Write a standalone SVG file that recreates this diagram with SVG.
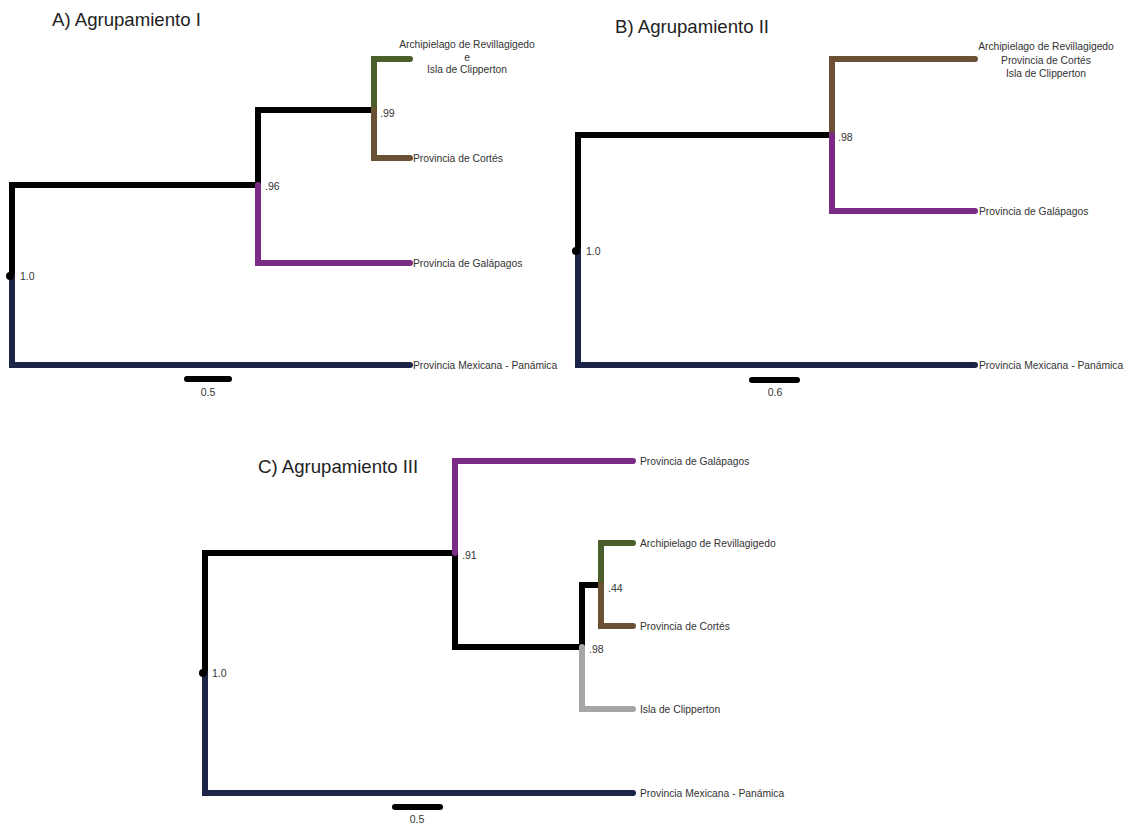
<svg xmlns="http://www.w3.org/2000/svg" width="1133" height="828" viewBox="0 0 1133 828">
<style>
.br{fill:none;stroke-width:6;stroke-linecap:round;stroke-linejoin:miter}
.k{stroke:#000}
.nv{stroke:#1c2448}
.pu{stroke:#7b2a86}
.gr{stroke:#4a5f2a}
.bn{stroke:#6b5133}
.gy{stroke:#a6a6a6}
.t{font-family:"Liberation Sans",Arial,sans-serif;font-size:18.6px;fill:#222}
.l{font-family:"Liberation Sans",Arial,sans-serif;font-size:10.3px;fill:#333}
.s{font-family:"Liberation Sans",Arial,sans-serif;font-size:10.5px;fill:#333}
.sb{stroke:#000;stroke-width:6;stroke-linecap:round}
</style>
<rect width="1133" height="828" fill="#fff"/>

<!-- Panel A -->
<g id="panelA">
<text class="t" x="52" y="26">A) Agrupamiento I</text>
<g id="A-connectors">
<path class="br k" d="M12,276 V185 H258 V110 H374"/>
<path class="br nv" d="M12,276 V365 H410"/>
<path class="br pu" d="M258,185 V263 H410"/>
<path class="br gr" d="M374,110 V59 H410"/>
<path class="br bn" d="M374,110 V158 H410"/>
<circle cx="10" cy="276" r="4" fill="#000"/>
</g>
<g id="A-root"><text class="s" x="20" y="280">1.0</text></g>
<g id="A-n96"><text class="s" x="265" y="190">.96</text></g>
<g id="A-n99"><text class="s" x="380" y="117">.99</text></g>
<g id="A-revi"><text class="l" text-anchor="middle" x="467" y="48">Archipielago de Revillagigedo<tspan x="467" dy="12.5">e</tspan><tspan x="467" dy="12.5">Isla de Clipperton</tspan></text></g>
<g id="A-cortes"><text class="l" x="413" y="162">Provincia de Cortés</text></g>
<g id="A-galap"><text class="l" x="413" y="267">Provincia de Galápagos</text></g>
<g id="A-mex"><text class="l" x="413" y="369">Provincia Mexicana - Panámica</text></g>
<g id="A-scale"><line class="sb" x1="187" y1="379" x2="229" y2="379"/><text class="s" text-anchor="middle" x="208" y="396">0.5</text></g>
</g>

<!-- Panel B -->
<g id="panelB">
<text class="t" x="615" y="33">B) Agrupamiento II</text>
<g id="B-connectors">
<path class="br k" d="M578,251 V135 H832"/>
<path class="br nv" d="M578,251 V365 H975"/>
<path class="br bn" d="M832,135 V59 H975"/>
<path class="br pu" d="M832,135 V211 H975"/>
<circle cx="576" cy="251" r="4" fill="#000"/>
</g>
<g id="B-root"><text class="s" x="586" y="255">1.0</text></g>
<g id="B-n98"><text class="s" x="838" y="141">.98</text></g>
<g id="B-grp"><text class="l" text-anchor="middle" x="1046" y="50">Archipielago de Revillagigedo<tspan x="1046" dy="13.5">Provincia de Cortés</tspan><tspan x="1046" dy="13.5">Isla de Clipperton</tspan></text></g>
<g id="B-galap"><text class="l" x="979" y="215">Provincia de Galápagos</text></g>
<g id="B-mex"><text class="l" x="979" y="369">Provincia Mexicana - Panámica</text></g>
<g id="B-scale"><line class="sb" x1="752" y1="380" x2="797" y2="380"/><text class="s" text-anchor="middle" x="775" y="396">0.6</text></g>
</g>

<!-- Panel C -->
<g id="panelC">
<text class="t" x="258" y="473">C) Agrupamiento III</text>
<g id="C-connectors">
<path class="br k" d="M205,673 V553 H455 V647 H582 V585 H601"/>
<path class="br nv" d="M205,673 V793 H633"/>
<path class="br pu" d="M455,553 V461 H633"/>
<path class="br gr" d="M601,585 V543 H633"/>
<path class="br bn" d="M601,585 V626 H633"/>
<path class="br gy" d="M582,647 V709 H633"/>
<circle cx="203" cy="673" r="4" fill="#000"/>
</g>
<g id="C-root"><text class="s" x="212" y="677">1.0</text></g>
<g id="C-n91"><text class="s" x="462" y="559">.91</text></g>
<g id="C-n44"><text class="s" x="608" y="592">.44</text></g>
<g id="C-n98"><text class="s" x="589" y="653">.98</text></g>
<g id="C-galap"><text class="l" x="640" y="465">Provincia de Galápagos</text></g>
<g id="C-revi"><text class="l" x="640" y="547">Archipielago de Revillagigedo</text></g>
<g id="C-cortes"><text class="l" x="640" y="630">Provincia de Cortés</text></g>
<g id="C-clip"><text class="l" x="640" y="713">Isla de Clipperton</text></g>
<g id="C-mex"><text class="l" x="640" y="797">Provincia Mexicana - Panámica</text></g>
<g id="C-scale"><line class="sb" x1="395" y1="807" x2="440" y2="807"/><text class="s" text-anchor="middle" x="417" y="823">0.5</text></g>
</g>
</svg>
